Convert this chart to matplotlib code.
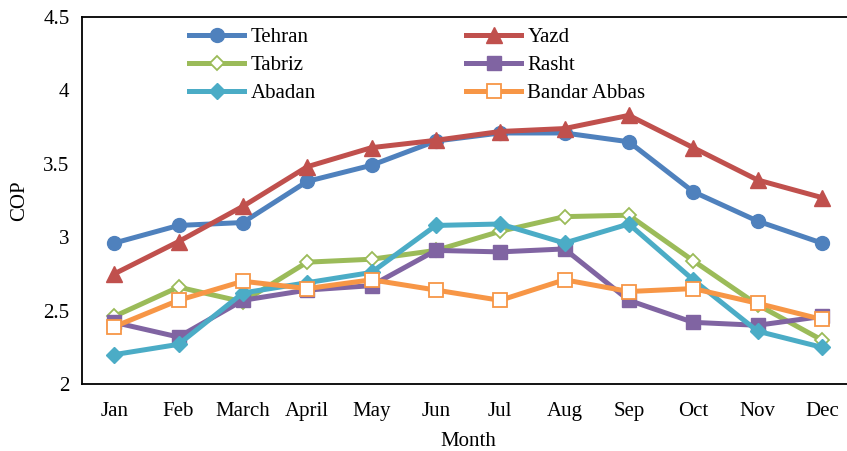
import matplotlib.pyplot as plt
import numpy as np

plt.rcParams['font.family'] = ['Liberation Serif', 'DejaVu Serif']

months = ["Jan", "Feb", "March", "April", "May", "Jun", "Jul", "Aug", "Sep", "Oct", "Nov", "Dec"]

tehran = [2.96, 3.08, 3.10, 3.38, 3.49, 3.655, 3.71, 3.71, 3.65, 3.31, 3.11, 2.96]
yazd = [2.75, 2.97, 3.21, 3.48, 3.61, 3.66, 3.72, 3.74, 3.83, 3.61, 3.39, 3.27]
tabriz = [2.46, 2.66, 2.56, 2.83, 2.85, 2.91, 3.04, 3.14, 3.15, 2.84, 2.54, 2.30]
rasht = [2.42, 2.32, 2.57, 2.64, 2.67, 2.91, 2.90, 2.92, 2.57, 2.42, 2.40, 2.46]
abadan = [2.20, 2.27, 2.62, 2.69, 2.76, 3.08, 3.09, 2.96, 3.09, 2.71, 2.36, 2.25]
bandar_abbas = [2.39, 2.57, 2.70, 2.65, 2.71, 2.64, 2.57, 2.71, 2.63, 2.65, 2.55, 2.44]

x = np.arange(len(months))

fig = plt.figure(figsize=(8.47, 4.51), dpi=100)
ax = fig.add_axes([82 / 847, 1 - 384 / 451, (854 - 82) / 847, (384 - 17) / 451])

lw = 3.6
l1, = ax.plot(x, tehran, color="#4F81BD", lw=lw, marker="o", ms=10, label="Tehran")
l2, = ax.plot(x, yazd, color="#C0504D", lw=lw, marker="^", ms=11, label="Yazd")
l3, = ax.plot(x, tabriz, color="#9BBB59", lw=lw, marker="D", ms=7.5, mfc="white", mew=1.3, label="Tabriz")
l4, = ax.plot(x, rasht, color="#8064A2", lw=lw, marker="s", ms=10, label="Rasht")
l5, = ax.plot(x, abadan, color="#4BACC6", lw=lw, marker="D", ms=8.5, label="Abadan")
l6, = ax.plot(x, bandar_abbas, color="#F79646", lw=lw, marker="s", ms=10, mfc="white", mew=1.3, label="Bandar Abbas")

ax.set_xlim(-0.5, 11.5)
ax.set_ylim(2, 4.5)
ax.set_yticks([2, 2.5, 3, 3.5, 4, 4.5])
ax.set_yticklabels(["2", "2.5", "3", "3.5", "4", "4.5"])
ax.set_xticks(x)
ax.set_xticklabels(months)
ax.tick_params(length=0, labelsize=15, pad=13)
ax.tick_params(axis='y', pad=9)
ax.spines['right'].set_visible(False)
for s in ax.spines.values():
    s.set_linewidth(1.3)

ax.set_xlabel("Month", fontsize=15, labelpad=8)
ax.set_ylabel("COP", fontsize=15, labelpad=10)

# legend row-wise: matplotlib fills columns first
handles = [l1, l3, l5, l2, l4, l6]
ax.legend(handles=handles, ncol=2, loc="upper left", bbox_to_anchor=(0.12, 1.01), frameon=False,
          fontsize=15, handlelength=2.65, columnspacing=7.2, labelspacing=0.4,
          handletextpad=0.3, borderaxespad=0.3)

fig.savefig("out.png", dpi=100)
